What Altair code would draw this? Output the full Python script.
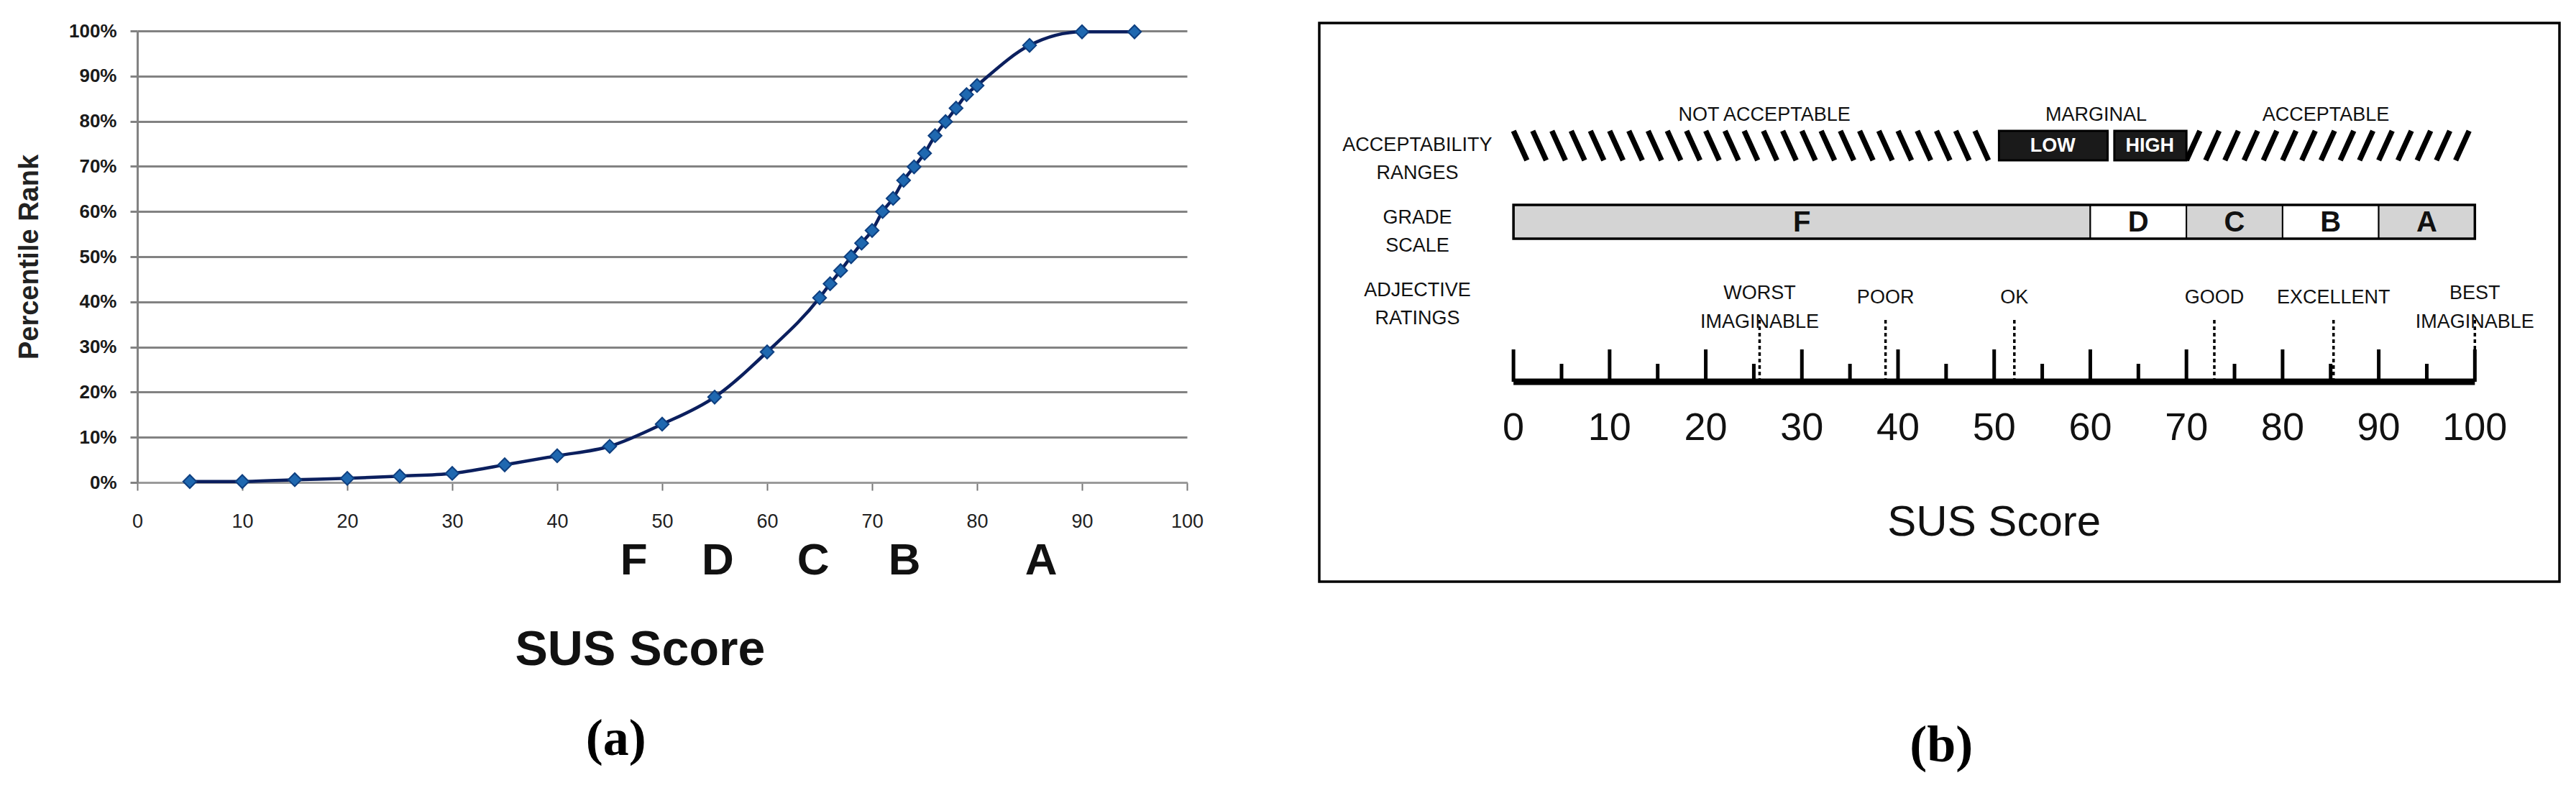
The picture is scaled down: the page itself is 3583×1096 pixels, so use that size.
import altair as alt
import pandas as pd

# ---------------- panel (a) data ----------------
sus_scores = [5, 10, 15, 20, 25, 30, 35, 40, 45, 50, 55, 60, 65, 66, 67, 68, 69, 70,
              71, 72, 73, 74, 75, 76, 77, 78, 79, 80, 85, 90, 95]
percentile_rank = [0.2, 0.2, 0.6, 0.9, 1.4, 2.0, 3.9, 5.9, 8.0, 12.9, 18.9, 28.9, 40.9,
                   44.0, 46.9, 50.0, 53.0, 55.8, 60.0, 62.9, 66.9, 69.9, 72.9, 76.8,
                   79.9, 82.9, 85.9, 87.9, 96.8, 99.8, 99.8]
x_ticks_a = list(range(0, 101, 10))
y_ticks_a = [i / 10 for i in range(11)]
grade_letters_a = ["F", "D", "C", "B", "A"]
grade_letter_pos_a = [47.3, 55.3, 64.4, 73.1, 86.1]
title_a = "SUS Score"
title_a_pos = 47.9
caption_a = "(a)"
caption_a_pos = 45.6

# ---------------- panel (b) data ----------------
range_names = ["NOT ACCEPTABLE", "MARGINAL", "ACCEPTABLE"]
range_label_pos = [26.1, 60.6, 84.5]
not_acceptable = [0, 50]
acceptable = [70, 100]
marginal_names = ["LOW", "HIGH"]
marginal_start = [50.5, 62.5]
marginal_end = [61.8, 70]
marginal_label_pos = [56.1, 66.2]
grades = ["F", "D", "C", "B", "A"]
grade_start = [0, 60, 70, 80, 90]
grade_end = [60, 70, 80, 90, 100]
grade_label_pos = [30, 65, 75, 85, 95]
grade_shaded = [True, False, True, False, True]
row_labels = ["ACCEPTABILITY\nRANGES", "GRADE\nSCALE", "ADJECTIVE\nRATINGS"]
row_label_pos = -10
adjectives = ["WORST\nIMAGINABLE", "POOR", "OK", "GOOD", "EXCELLENT", "BEST\nIMAGINABLE"]
adjective_pos = [25.6, 38.7, 52.1, 72.9, 85.3, 100]
scale_major = list(range(0, 101, 10))
scale_minor = list(range(5, 100, 10))
title_b = "SUS Score"
title_b_pos = 50
caption_b = "(b)"
caption_b_pos = 44.5
domain_b = [-20.2, 108.8]

SANS = "Liberation Sans"
SERIF = "Liberation Serif"

# ================= panel (a) =================
W1, H1 = 1460, 628
df_a = pd.DataFrame({"score": sus_scores, "pct": [p / 100 for p in percentile_rank]})
xs_a = alt.Scale(domain=[0, 100], nice=False, zero=False)
ys_a = alt.Scale(domain=[0, 1], nice=False, zero=False)
GRID = "#828282"

x_axis_a = alt.Axis(
    values=x_ticks_a, title=None, grid=False, domainColor="#9a9a9a", domainWidth=3,
    tickColor="#777", tickSize=11, tickWidth=2, labelFont=SANS, labelFontSize=27,
    labelColor="#222", labelPadding=30, labelFlush=False)
y_axis_a = alt.Axis(
    values=y_ticks_a, format=".0%", title="Percentile Rank", grid=True,
    gridColor=GRID, gridWidth=3, domainColor=GRID, domainWidth=3,
    tickColor=GRID, tickSize=10, tickWidth=3, labelFont=SANS, labelFontSize=26,
    labelFontWeight="bold", labelColor="#1a1a1a", labelPadding=19,
    titleFont=SANS, titleFontSize=38, titleFontWeight="bold", titleColor="#222",
    titleX=-150, titleY=H1 / 2, titleBaseline="middle", titleAngle=270)


def xa(field):
    return alt.X(field, scale=xs_a, axis=x_axis_a)


def ya(field):
    return alt.Y(field, scale=ys_a, axis=y_axis_a)


line_a = alt.Chart(df_a).mark_line(
    color="#0b1f5e", strokeWidth=4.5, interpolate="monotone"
).encode(x=xa("score:Q"), y=ya("pct:Q"))

points_a = alt.Chart(df_a).mark_point(
    shape="diamond", filled=True, size=340, color="#1f68b0", stroke="#0e3f80",
    strokeWidth=2, opacity=1
).encode(x=xa("score:Q"), y=ya("pct:Q"))

letters_a = alt.Chart(pd.DataFrame({"g": grade_letters_a, "pos": grade_letter_pos_a})).mark_text(
    font=SANS, fontSize=62, fontWeight="bold", color="#111", baseline="middle"
).encode(x=xa("pos:Q"), y=alt.value(737), text="g:N")

title_a_layer = alt.Chart(pd.DataFrame({"t": [title_a], "pos": [title_a_pos]})).mark_text(
    font=SANS, fontSize=68, fontWeight="bold", color="#111", baseline="middle"
).encode(x=xa("pos:Q"), y=alt.value(862), text="t:N")

caption_a_layer = alt.Chart(pd.DataFrame({"t": [caption_a], "pos": [caption_a_pos]})).mark_text(
    font=SERIF, fontSize=72, fontWeight="bold", color="#000", baseline="middle"
).encode(x=xa("pos:Q"), y=alt.value(985), text="t:N")

panel_a = alt.layer(line_a, points_a, letters_a, title_a_layer, caption_a_layer).properties(
    width=W1, height=H1)

# ================= panel (b) =================
W2, H2 = 1725, 628
xs_b = alt.Scale(domain=domain_b, nice=False, zero=False)
one = pd.DataFrame({"k": [0]})
LAB = 27


def xb(field):
    return alt.X(field, scale=xs_b, axis=None)


box = alt.Chart(one).mark_rect(fill=None, stroke="black", strokeWidth=3.5).encode(
    x=alt.value(0), x2=alt.value(W2), y=alt.value(-11), y2=alt.value(766))

range_lab = alt.Chart(pd.DataFrame({"t": range_names, "pos": range_label_pos})).mark_text(
    font=SANS, fontSize=LAB, baseline="middle", color="#111"
).encode(x=xb("pos:Q"), y=alt.value(117), text="t:N")

STEP, SLANT = 2.0, 1.4
na_top = [not_acceptable[0] + STEP * i for i in range(int((not_acceptable[1] - not_acceptable[0] - SLANT) // STEP) + 1)]
stripes_na = alt.Chart(pd.DataFrame({"a": na_top, "b": [v + SLANT for v in na_top]})).mark_rule(
    color="black", strokeWidth=7.5
).encode(x=xb("a:Q"), x2="b:Q", y=alt.value(139), y2=alt.value(180))

ac_bot = [acceptable[0] + STEP * i for i in range(int((acceptable[1] - acceptable[0] - SLANT) // STEP) + 1)]
stripes_ac = alt.Chart(pd.DataFrame({"a": [v + SLANT for v in ac_bot], "b": ac_bot})).mark_rule(
    color="black", strokeWidth=7.5
).encode(x=xb("a:Q"), x2="b:Q", y=alt.value(139), y2=alt.value(180))

df_marg = pd.DataFrame({"n": marginal_names, "s": marginal_start, "e": marginal_end,
                        "pos": marginal_label_pos})
marg_rect = alt.Chart(df_marg).mark_rect(fill="#1a1a1a", stroke="black", strokeWidth=3).encode(
    x=xb("s:Q"), x2="e:Q", y=alt.value(139), y2=alt.value(180))
marg_text = alt.Chart(df_marg).mark_text(
    font=SANS, fontSize=27, fontWeight="bold", color="white", baseline="middle"
).encode(x=xb("pos:Q"), y=alt.value(160), text="n:N")

df_grade = pd.DataFrame({"g": grades, "s": grade_start, "e": grade_end,
                         "pos": grade_label_pos, "shaded": grade_shaded})
grade_rect = alt.Chart(df_grade).mark_rect(stroke="black", strokeWidth=2).encode(
    x=xb("s:Q"), x2="e:Q", y=alt.value(242), y2=alt.value(289),
    fill=alt.condition(alt.datum.shaded, alt.value("#d4d4d4"), alt.value("white")))
grade_outline = alt.Chart(pd.DataFrame({"s": [grade_start[0]], "e": [grade_end[-1]]})).mark_rect(
    fill=None, stroke="black", strokeWidth=3.5
).encode(x=xb("s:Q"), x2="e:Q", y=alt.value(242), y2=alt.value(289))
grade_text = alt.Chart(df_grade).mark_text(
    font=SANS, fontSize=40, fontWeight="bold", color="#111", baseline="middle"
).encode(x=xb("pos:Q"), y=alt.value(267), text="g:N")

row_lab = []
for lab, yy in zip(row_labels, [159, 260, 361]):
    row_lab.append(alt.Chart(pd.DataFrame({"t": [lab], "pos": [row_label_pos]})).mark_text(
        font=SANS, fontSize=LAB, baseline="middle", color="#111", lineBreak="\n", lineHeight=39
    ).encode(x=xb("pos:Q"), y=alt.value(yy), text="t:N"))

df_adj = pd.DataFrame({"t": adjectives, "pos": adjective_pos,
                       "multi": ["\n" in a for a in adjectives]})
adj_lines = alt.Chart(df_adj).mark_rule(color="black", strokeWidth=3.5, strokeDash=[5, 4]).encode(
    x=xb("pos:Q"), y=alt.value(402), y2=alt.value(485))
adj_single = alt.Chart(df_adj).transform_filter("!datum.multi").mark_text(
    font=SANS, fontSize=LAB, baseline="middle", color="#111"
).encode(x=xb("pos:Q"), y=alt.value(371), text="t:N")
adj_multi = alt.Chart(df_adj).transform_filter("datum.multi").mark_text(
    font=SANS, fontSize=LAB, baseline="middle", color="#111", lineBreak="\n", lineHeight=40
).encode(x=xb("pos:Q"), y=alt.value(365), text="t:N")

baseline = alt.Chart(pd.DataFrame({"s": [scale_major[0]], "e": [scale_major[-1]]})).mark_rule(
    color="black", strokeWidth=9
).encode(x=xb("s:Q"), x2="e:Q", y=alt.value(488))
major = alt.Chart(pd.DataFrame({"v": scale_major})).mark_rule(color="black", strokeWidth=5).encode(
    x=xb("v:Q"), y=alt.value(443), y2=alt.value(488))
minor = alt.Chart(pd.DataFrame({"v": scale_minor})).mark_rule(color="black", strokeWidth=5).encode(
    x=xb("v:Q"), y=alt.value(463), y2=alt.value(488))
major_lab = alt.Chart(pd.DataFrame({"v": scale_major})).mark_text(
    font=SANS, fontSize=54, baseline="middle", color="#111"
).encode(x=xb("v:Q"), y=alt.value(553), text="v:Q")

title_b_layer = alt.Chart(pd.DataFrame({"t": [title_b], "pos": [title_b_pos]})).mark_text(
    font=SANS, fontSize=60, baseline="middle", color="#111"
).encode(x=xb("pos:Q"), y=alt.value(684), text="t:N")
caption_b_layer = alt.Chart(pd.DataFrame({"t": [caption_b], "pos": [caption_b_pos]})).mark_text(
    font=SERIF, fontSize=72, fontWeight="bold", color="#000", baseline="middle"
).encode(x=xb("pos:Q"), y=alt.value(994), text="t:N")

panel_b = alt.layer(
    box, range_lab, stripes_na, stripes_ac, marg_rect, marg_text,
    grade_rect, grade_outline, grade_text, *row_lab,
    adj_lines, adj_single, adj_multi, baseline, major, minor, major_lab,
    title_b_layer, caption_b_layer
).properties(width=W2, height=H2)

chart = alt.hconcat(panel_a, panel_b, spacing=159).properties(
    padding={"left": 14, "top": 22, "right": 5, "bottom": 5},
    background="white",
).configure_view(stroke=None)

chart.save("out.html", embed_options={"renderer": "svg", "actions": False})
